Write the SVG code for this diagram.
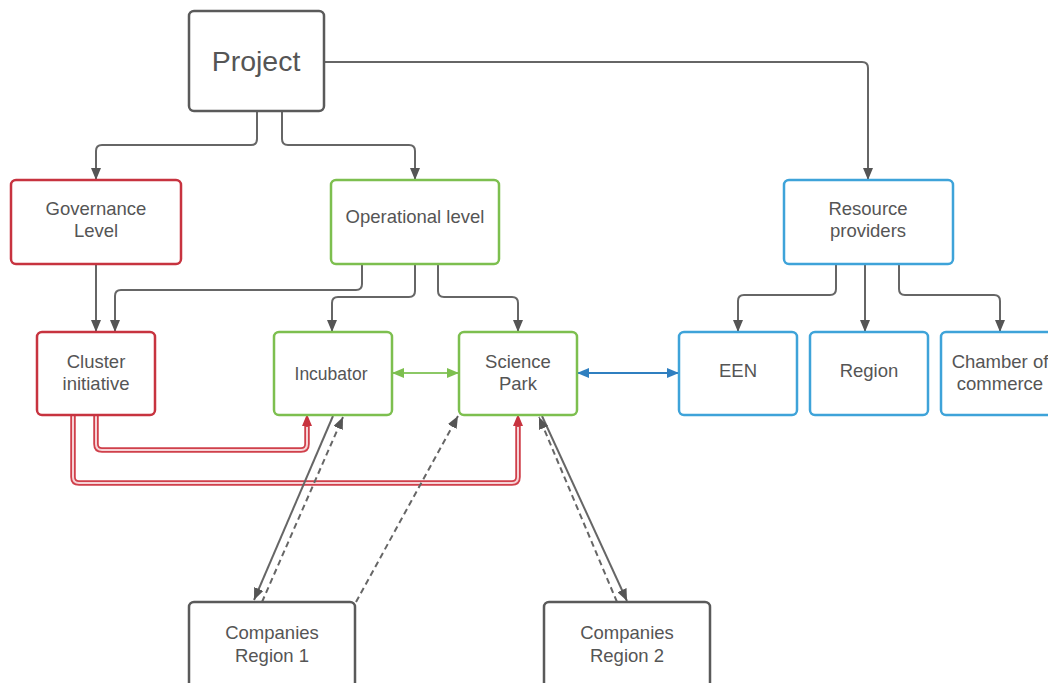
<svg xmlns="http://www.w3.org/2000/svg" width="1048" height="683" viewBox="0 0 1048 683">
<style>
.n rect{fill:#fff;stroke-width:2.5}
.g rect{stroke:#5a5a5a}
.r rect{stroke:#c7333f}
.gr rect{stroke:#7dbf4f}
.b rect{stroke:#3ea3d9}
text{font-family:"Liberation Sans",Arial,sans-serif;fill:#555;font-size:18.5px;text-anchor:middle}
.c{fill:none;stroke:#666;stroke-width:2}
.d{stroke-dasharray:6 4}
.ro{fill:none;stroke:#d0404b;stroke-width:5.5}
.ri{fill:none;stroke:#f6d3d6;stroke-width:2}
</style>
<defs>
<marker id="a" viewBox="0 0 12 10" refX="12" refY="5" markerWidth="12" markerHeight="10" markerUnits="userSpaceOnUse" orient="auto-start-reverse"><path d="M0 0L12 5L0 10Z" fill="#555"/></marker>
<marker id="ag" viewBox="0 0 12 10" refX="12" refY="5" markerWidth="12" markerHeight="10" markerUnits="userSpaceOnUse" orient="auto-start-reverse"><path d="M0 0L12 5L0 10Z" fill="#7dbf4f"/></marker>
<marker id="ab" viewBox="0 0 12 10" refX="12" refY="5" markerWidth="12" markerHeight="10" markerUnits="userSpaceOnUse" orient="auto-start-reverse"><path d="M0 0L12 5L0 10Z" fill="#2f7fc0"/></marker>
<marker id="ar" viewBox="0 0 12 10" refX="0" refY="5" markerWidth="12" markerHeight="10" markerUnits="userSpaceOnUse" orient="auto"><path d="M0 0L12 5L0 10Z" fill="#c7333f"/></marker>
</defs>
<rect width="1048" height="683" fill="#fff"/>
<g id="connectors">
<path class="c" d="M257 111V139Q257 145 251 145H102Q96 145 96 151V180" marker-end="url(#a)"/>
<path class="c" d="M282 111V139Q282 145 288 145H409Q415 145 415 151V180" marker-end="url(#a)"/>
<path class="c" d="M324 62H862Q868 62 868 68V180" marker-end="url(#a)"/>
<path class="c" d="M96 264V332" marker-end="url(#a)"/>
<path class="c" d="M362 264V284Q362 290 356 290H121Q115 290 115 296V332" marker-end="url(#a)"/>
<path class="c" d="M415 264V291Q415 297 409 297H338Q332 297 332 303V332" marker-end="url(#a)"/>
<path class="c" d="M438 264V291Q438 297 444 297H512Q518 297 518 303V332" marker-end="url(#a)"/>
<path class="c" d="M836 264V289Q836 295 830 295H744Q738 295 738 301V332" marker-end="url(#a)"/>
<path class="c" d="M865 264V332" marker-end="url(#a)"/>
<path class="c" d="M899 264V289Q899 295 905 295H994Q1000 295 1000 301V332" marker-end="url(#a)"/>
<path fill="none" stroke="#8cc866" stroke-width="2" d="M392 373H459" marker-start="url(#ag)" marker-end="url(#ag)"/>
<path fill="none" stroke="#2f7fc0" stroke-width="2" d="M577 373H679" marker-start="url(#ab)" marker-end="url(#ab)"/>
<path class="ro" d="M96 415V444Q96 450 102 450H301Q307 450 307 444V426" marker-end="url(#ar)"/>
<path class="ri" d="M96 415V444Q96 450 102 450H301Q307 450 307 444V427"/>
<path class="ro" d="M73 415V477Q73 483 79 483H512Q518 483 518 477V426" marker-end="url(#ar)"/>
<path class="ri" d="M73 415V477Q73 483 79 483H512Q518 483 518 477V427"/>
<path class="c" d="M333 416L254 600" marker-end="url(#a)"/>
<path class="c d" d="M262 602L343 417" marker-end="url(#a)"/>
<path class="c d" d="M356 602L458 416" marker-end="url(#a)"/>
<path class="c" d="M542 416L627 601" marker-end="url(#a)"/>
<path class="c d" d="M617 602L539 417" marker-end="url(#a)"/>
</g>
<g id="project" class="n g"><rect x="189" y="11" width="135" height="100" rx="5"/><text x="256" y="71" style="font-size:28.5px">Project</text></g>
<g id="governance" class="n r"><rect x="11" y="180" width="170" height="84" rx="5"/><text x="96" y="215">Governance</text><text x="96" y="237">Level</text></g>
<g id="operational" class="n gr"><rect x="331" y="180" width="168" height="84" rx="5"/><text x="415" y="223">Operational level</text></g>
<g id="resource" class="n b"><rect x="784" y="180" width="169" height="84" rx="5"/><text x="868" y="215">Resource</text><text x="868" y="237">providers</text></g>
<g id="cluster" class="n r"><rect x="37" y="332" width="118" height="83" rx="5"/><text x="96" y="368">Cluster</text><text x="96" y="390">initiative</text></g>
<g id="incubator" class="n gr"><rect x="274" y="332" width="118" height="83" rx="5"/><text x="331" y="380" style="font-size:17.5px">Incubator</text></g>
<g id="sciencepark" class="n gr"><rect x="459" y="332" width="118" height="83" rx="5"/><text x="518" y="368">Science</text><text x="518" y="390">Park</text></g>
<g id="een" class="n b"><rect x="679" y="332" width="118" height="83" rx="5"/><text x="738" y="377">EEN</text></g>
<g id="region" class="n b"><rect x="810" y="332" width="118" height="83" rx="5"/><text x="869" y="377">Region</text></g>
<g id="chamber" class="n b"><rect x="941" y="332" width="118" height="83" rx="5"/><text x="1000" y="368">Chamber of</text><text x="1000" y="390">commerce</text></g>
<g id="companies1" class="n g"><rect x="189" y="602" width="166" height="100" rx="5"/><text x="272" y="639">Companies</text><text x="272" y="662">Region 1</text></g>
<g id="companies2" class="n g"><rect x="544" y="602" width="166" height="100" rx="5"/><text x="627" y="639">Companies</text><text x="627" y="662">Region 2</text></g>
</svg>
